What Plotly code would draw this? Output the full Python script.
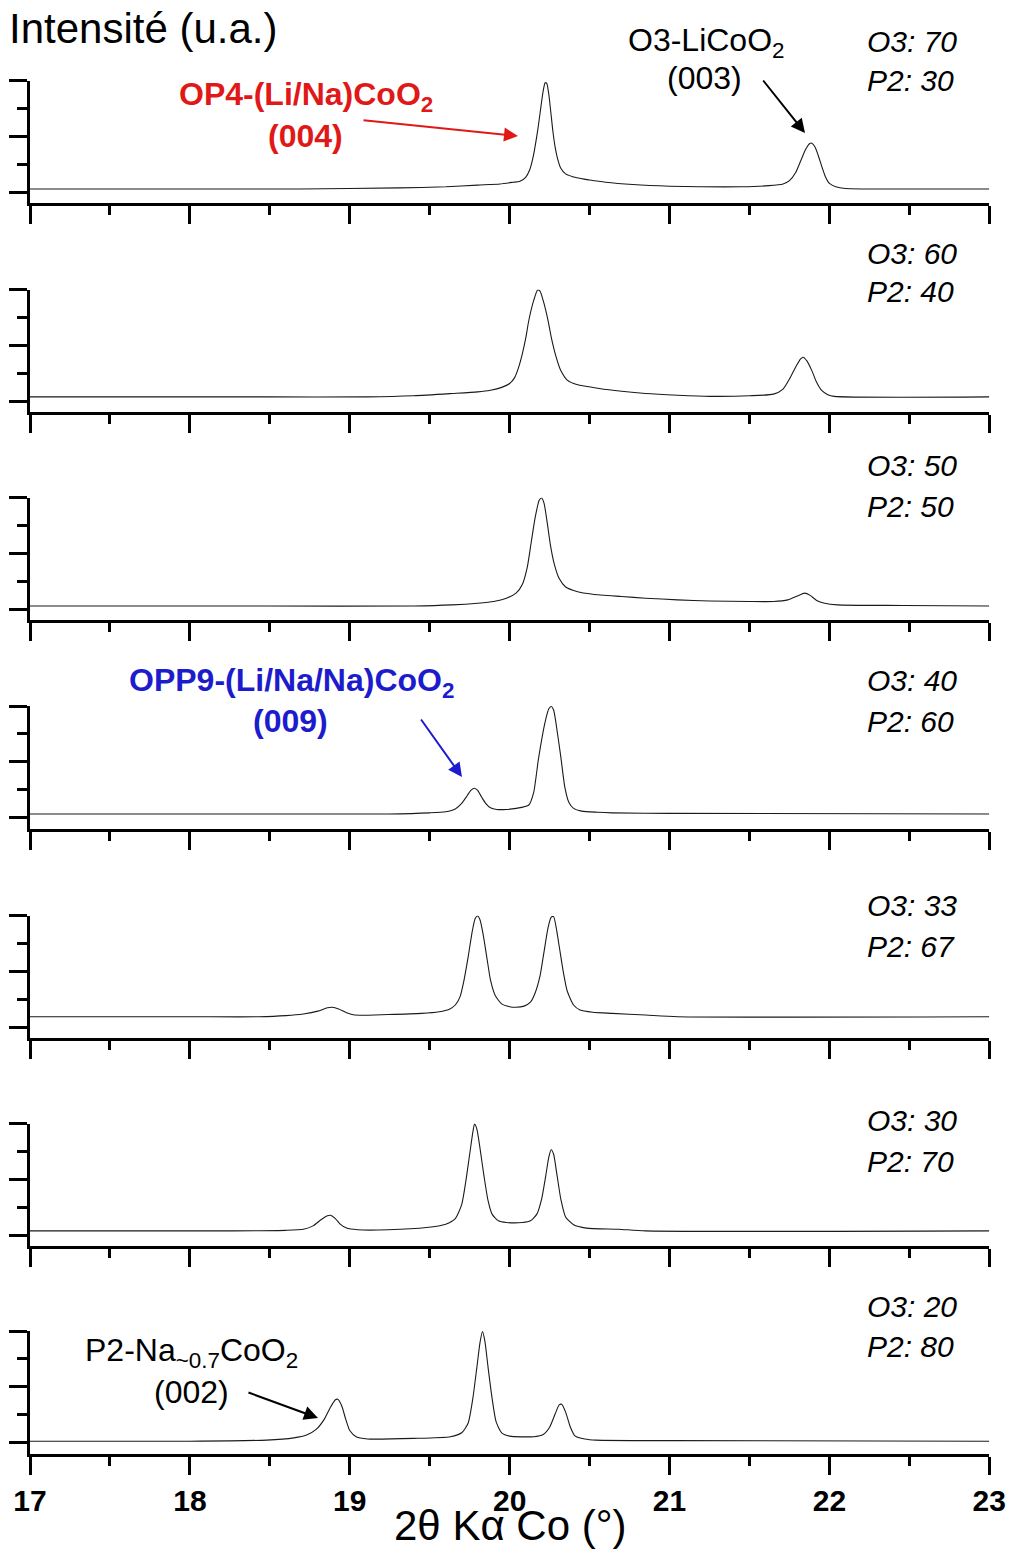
import plotly.graph_objects as go

W, H = 1011, 1549
FONT = "Liberation Sans, Arial, sans-serif"

# ---------------- data (2theta in degrees, intensity in arbitrary units) ----------------
tt_70_30 = [17.00, 18.00, 18.69, 19.31, 19.60, 19.80, 19.94, 20.02, 20.065, 20.10, 20.125,
            20.146, 20.165, 20.18, 20.195, 20.21, 20.222, 20.232, 20.245, 20.258, 20.271,
            20.285, 20.30, 20.32, 20.35, 20.42, 20.50, 20.60, 20.77, 21.00, 21.19, 21.45,
            21.62, 21.71, 21.75, 21.79, 21.82, 21.85, 21.875, 21.89, 21.91, 21.93, 21.955,
            21.975, 22.00, 22.04, 22.10, 22.50, 23.00]
int_70_30 = [0.06, 0.06, 0.06, 0.08, 0.10, 0.13, 0.15, 0.18, 0.20, 0.27, 0.40,
             0.62, 0.92, 1.20, 1.52, 1.82, 1.96, 1.95, 1.75, 1.42, 1.08,
             0.80, 0.60, 0.43, 0.33, 0.26, 0.22, 0.18, 0.14, 0.11, 0.10, 0.10,
             0.12, 0.15, 0.21, 0.36, 0.56, 0.76, 0.87, 0.88, 0.81, 0.66, 0.44,
             0.28, 0.16, 0.10, 0.07, 0.06, 0.06]

tt_60_40 = [17.00, 18.50, 19.11, 19.40, 19.64, 19.80, 19.88, 19.95, 20.00, 20.03, 20.055,
            20.08, 20.10, 20.12, 20.15, 20.175, 20.19, 20.21, 20.24, 20.26, 20.29, 20.32,
            20.36, 20.42, 20.56, 20.70, 20.85, 21.05, 21.25, 21.50, 21.65, 21.71, 21.75,
            21.79, 21.82, 21.835, 21.86, 21.89, 21.92, 21.95, 21.99, 22.03, 23.00]
int_60_40 = [0.08, 0.08, 0.08, 0.10, 0.14, 0.17, 0.20, 0.25, 0.32, 0.42, 0.60,
             0.86, 1.12, 1.45, 1.80, 1.99, 1.97, 1.80, 1.45, 1.15, 0.80, 0.55,
             0.38, 0.30, 0.23, 0.18, 0.14, 0.11, 0.09, 0.10, 0.13, 0.22, 0.40,
             0.62, 0.76, 0.79, 0.72, 0.55, 0.34, 0.20, 0.12, 0.09, 0.08]

tt_50_50 = [17.00, 18.50, 19.40, 19.64, 19.80, 19.90, 19.98, 20.04, 20.08, 20.11, 20.135,
            20.16, 20.185, 20.20, 20.215, 20.235, 20.255, 20.28, 20.31, 20.35, 20.42, 20.52,
            20.70, 20.85, 21.05, 21.25, 21.50, 21.65, 21.74, 21.80, 21.845, 21.88, 21.92,
            21.97, 22.05, 22.46, 23.00]
int_50_50 = [0.06, 0.06, 0.06, 0.08, 0.11, 0.14, 0.20, 0.29, 0.45, 0.75, 1.20,
             1.65, 1.95, 1.99, 1.90, 1.55, 1.15, 0.80, 0.55, 0.40, 0.32, 0.27,
             0.23, 0.20, 0.17, 0.15, 0.14, 0.14, 0.17, 0.24, 0.29, 0.25, 0.16,
             0.11, 0.08, 0.07, 0.06]

tt_40_60 = [17.00, 18.50, 19.24, 19.50, 19.60, 19.66, 19.70, 19.735, 19.76, 19.78, 19.80,
            19.825, 19.85, 19.88, 19.92, 19.98, 20.04, 20.12, 20.15, 20.18, 20.22, 20.245,
            20.26, 20.275, 20.29, 20.32, 20.345, 20.37, 20.40, 20.45, 20.55, 20.64, 21.00,
            23.00]
int_40_60 = [0.07, 0.07, 0.07, 0.09, 0.11, 0.16, 0.26, 0.40, 0.50, 0.53, 0.49,
             0.37, 0.26, 0.18, 0.15, 0.15, 0.17, 0.23, 0.45, 1.05, 1.69, 1.95,
             1.99, 1.93, 1.69, 1.09, 0.55, 0.28, 0.17, 0.12, 0.10, 0.09, 0.08,
             0.07]

tt_33_67 = [17.00, 18.00, 18.43, 18.60, 18.71, 18.80, 18.86, 18.89, 18.93, 18.98, 19.03,
            19.24, 19.45, 19.56, 19.62, 19.66, 19.69, 19.715, 19.74, 19.765, 19.785, 19.80,
            19.815, 19.835, 19.86, 19.88, 19.91, 19.95, 20.00, 20.04, 20.09, 20.13, 20.16,
            20.19, 20.215, 20.24, 20.26, 20.275, 20.29, 20.31, 20.335, 20.36, 20.40, 20.44,
            20.52, 20.64, 20.85, 21.05, 23.00]
int_33_67 = [0.19, 0.19, 0.19, 0.21, 0.24, 0.29, 0.35, 0.36, 0.33, 0.26, 0.22,
             0.23, 0.25, 0.28, 0.32, 0.40, 0.55, 0.85, 1.25, 1.70, 1.95, 1.99,
             1.92, 1.65, 1.20, 0.85, 0.57, 0.42, 0.37, 0.36, 0.38, 0.45, 0.62,
             0.92, 1.35, 1.78, 1.97, 1.98, 1.80, 1.45, 1.00, 0.65, 0.40, 0.31,
             0.27, 0.25, 0.22, 0.19, 0.19]

tt_30_70 = [17.00, 18.27, 18.60, 18.71, 18.77, 18.82, 18.86, 18.88, 18.91, 18.94, 18.98,
            19.05, 19.24, 19.48, 19.60, 19.66, 19.70, 19.725, 19.75, 19.77, 19.78, 19.795,
            19.815, 19.84, 19.865, 19.89, 19.93, 19.98, 20.08, 20.13, 20.17, 20.20, 20.225,
            20.245, 20.26, 20.275, 20.295, 20.32, 20.35, 20.40, 20.48, 20.68, 20.85, 23.00]
int_30_70 = [0.08, 0.08, 0.09, 0.11, 0.17, 0.28, 0.35, 0.36, 0.30, 0.20, 0.13,
             0.10, 0.10, 0.14, 0.20, 0.30, 0.55, 0.95, 1.45, 1.85, 1.99, 1.90,
             1.55, 1.05, 0.62, 0.38, 0.26, 0.23, 0.23, 0.26, 0.38, 0.65, 1.05,
             1.40, 1.53, 1.45, 1.10, 0.65, 0.33, 0.19, 0.13, 0.11, 0.08, 0.08]

tt_20_80 = [17.00, 18.00, 18.48, 18.65, 18.73, 18.79, 18.84, 18.88, 18.91, 18.925, 18.95,
            18.975, 19.00, 19.04, 19.11, 19.40, 19.63, 19.70, 19.74, 19.77, 19.795, 19.815,
            19.83, 19.845, 19.865, 19.89, 19.915, 19.95, 20.00, 20.15, 20.21, 20.25, 20.285,
            20.31, 20.325, 20.35, 20.38, 20.41, 20.47, 20.54, 21.00, 23.00]
int_20_80 = [0.03, 0.03, 0.05, 0.09, 0.14, 0.24, 0.42, 0.64, 0.77, 0.78, 0.66,
             0.42, 0.22, 0.11, 0.07, 0.08, 0.11, 0.18, 0.35, 0.80, 1.35, 1.80,
             1.99, 1.82, 1.35, 0.80, 0.38, 0.18, 0.12, 0.11, 0.15, 0.28, 0.52,
             0.68, 0.69, 0.55, 0.28, 0.12, 0.07, 0.05, 0.04, 0.03]

o3_labels = ["O3: 70", "O3: 60", "O3: 50", "O3: 40", "O3: 33", "O3: 30", "O3: 20"]
p2_labels = ["P2: 30", "P2: 40", "P2: 50", "P2: 60", "P2: 67", "P2: 70", "P2: 80"]
x_tick_vals = [17, 18, 19, 20, 21, 22, 23]
x_tick_text = ["17", "18", "19", "20", "21", "22", "23"]

series = [(tt_70_30, int_70_30), (tt_60_40, int_60_40), (tt_50_50, int_50_50),
          (tt_40_60, int_40_60), (tt_33_67, int_33_67), (tt_30_70, int_30_70),
          (tt_20_80, int_20_80)]

# ---------------- layout geometry (pixels) ----------------
panel_tops = [80.5, 289.5, 497.5, 706, 915.5, 1123.5, 1331]
panel_h = 122.5
x_left, x_right = 30, 989.3
o3_y = [41, 253, 466, 681, 906, 1120, 1306]
p2_y = [81, 292, 506, 721, 946, 1161, 1346]
label_x = 865


def fx(p):
    return p / W


def fy(p):
    return 1 - p / H


fig = go.Figure()
layout = dict(width=W, height=H, autosize=False,
              margin=dict(l=0, r=0, t=0, b=0, pad=0),
              paper_bgcolor="white", plot_bgcolor="white",
              showlegend=False, template="none",
              font=dict(family=FONT, color="black"))

n = len(series)
for i, (xs, ys) in enumerate(series):
    k = "" if i == 0 else str(i + 1)
    fig.add_trace(go.Scatter(x=xs, y=ys, mode="lines",
                             line=dict(color="#1a1a1a", width=1.1, shape="spline", smoothing=0.6),
                             xaxis="x" + k, yaxis="y" + k, hoverinfo="skip"))
    top = panel_tops[i]
    last = (i == n - 1)
    layout["xaxis" + k] = dict(
        domain=[fx(x_left), fx(x_right)], range=[17, 23], anchor="y" + k,
        showline=True, linewidth=3, linecolor="black", mirror=False,
        ticks="outside", ticklen=18, tickwidth=3, tickcolor="black",
        tickvals=x_tick_vals, ticktext=x_tick_text,
        minor=dict(ticks="outside", ticklen=9, tickwidth=3, tickcolor="black",
                   tickvals=[17.5, 18.5, 19.5, 20.5, 21.5, 22.5], showgrid=False),
        showgrid=False, zeroline=False, showticklabels=last,
        tickfont=dict(family=FONT, size=30, color="black", weight="bold"),
        automargin=False, fixedrange=True)
    layout["yaxis" + k] = dict(
        domain=[fy(top + panel_h), fy(top)], range=[-0.19, 2.0], anchor="x" + k,
        showline=True, linewidth=3, linecolor="black",
        ticks="outside", ticklen=18, tickwidth=3, tickcolor="black",
        tickvals=[0, 1, 2],
        minor=dict(ticks="outside", ticklen=10, tickwidth=3, tickcolor="black",
                   tickvals=[0.5, 1.5], showgrid=False),
        showgrid=False, zeroline=False, showticklabels=False,
        automargin=False, fixedrange=True)

anns = []


def text(t, x, y, size, color="black", xanchor="center"):
    anns.append(dict(text=t, x=fx(x), y=fy(y), xref="paper", yref="paper",
                     xanchor=xanchor, yanchor="middle", showarrow=False,
                     font=dict(family=FONT, size=size, color=color)))


def arrow(tail, tip, color, width=2):
    anns.append(dict(text="", x=fx(tip[0]), y=fy(tip[1]), xref="paper", yref="paper",
                     ax=tail[0] - tip[0], ay=tail[1] - tip[1], axref="pixel", ayref="pixel",
                     showarrow=True, arrowhead=2, arrowsize=1.4, arrowwidth=width,
                     arrowcolor=color, standoff=0, startstandoff=0))


for i in range(n):
    text("<i>" + o3_labels[i] + "</i>", label_x, o3_y[i], 30, xanchor="left")
    text("<i>" + p2_labels[i] + "</i>", label_x, p2_y[i], 30, xanchor="left")

# titles
text("Intensité (u.a.)", 7, 29, 42, xanchor="left")
text("2θ Kα Co (°)", 510, 1525, 42)

# phase annotations
RED = "#e01818"
BLUE = "#1c1ccc"
text("<b>OP4-(Li/Na)CoO<sub>2</sub></b>", 306, 96, 32, RED)
text("<b>(004)</b>", 305, 136, 32, RED)
arrow((362, 120), (518, 136), RED)

text("O3-LiCoO<sub>2</sub>", 706, 42, 32)
text("(003)", 704, 78, 32)
arrow((762, 79), (805, 133), "black")

text("<b>OPP9-(Li/Na/Na)CoO<sub>2</sub></b>", 291, 682, 32, BLUE)
text("<b>(009)</b>", 290, 721, 32, BLUE)
arrow((420, 718), (462, 777), BLUE)

text("P2-Na<sub>~0.7</sub>CoO<sub>2</sub>", 191, 1352, 32)
text("(002)", 191, 1392, 32)
arrow((247, 1392), (318, 1418), "black")

layout["annotations"] = anns
fig.update_layout(**layout)
fig.write_html("out.html", config={"displayModeBar": False},
               post_script="document.body.style.margin='0px';document.body.style.overflow='hidden';")
